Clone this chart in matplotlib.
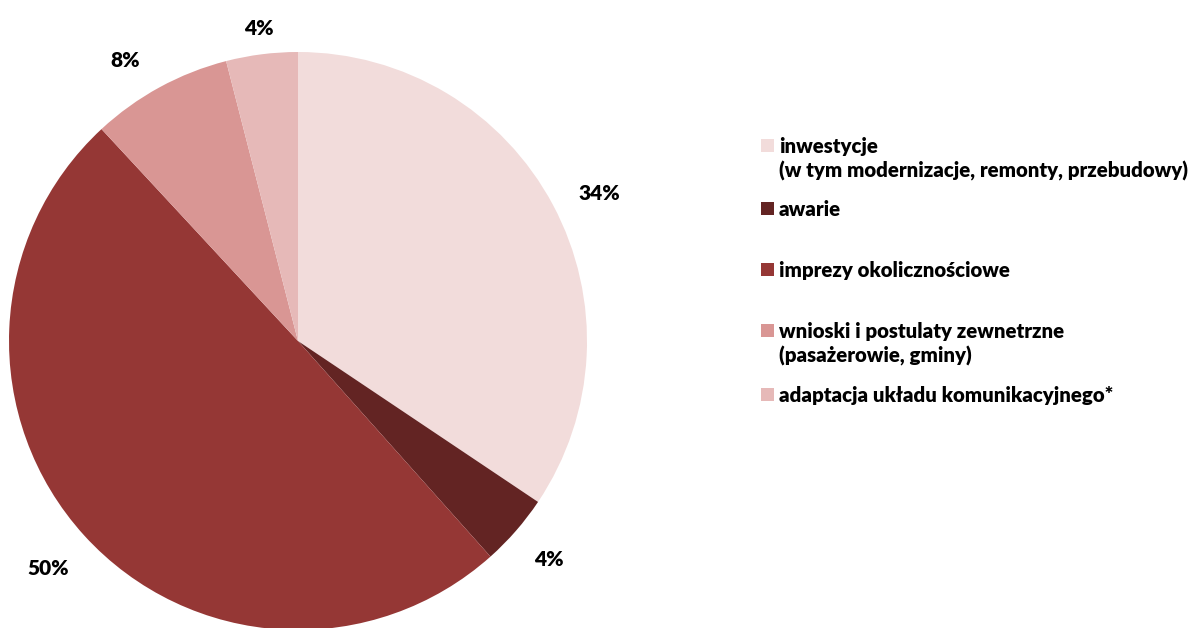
import numpy as np
import matplotlib.pyplot as plt
from matplotlib.patches import Rectangle

categories = [
    "inwestycje\n(w tym modernizacje, remonty, przebudowy)",
    "awarie",
    "imprezy okolicznościowe",
    "wnioski i postulaty zewnetrzne\n(pasażerowie, gminy)",
    "adaptacja układu komunikacyjnego*",
]
values = [34.4, 4.0, 49.7, 7.9, 4.0]
colors = ["#F2DCDB", "#632423", "#953735", "#D99694", "#E6B9B8"]

plt.rcParams['font.family'] = ['Lato', 'DejaVu Sans']

W, H = 1192, 628
fig = plt.figure(figsize=(W / 100, H / 100), dpi=100)

# pie axes: centre (298, 341), radius 289 px
cx, cy, r = 298, 341, 289
ax = fig.add_axes([(cx - r) / W, (H - cy - r) / H, 2 * r / W, 2 * r / H])
wedges, texts, autotexts = ax.pie(
    values, colors=colors, startangle=90, counterclock=False,
    autopct=lambda p: f"{p:.0f}%", pctdistance=1.15,
    textprops=dict(fontsize=15, fontweight="heavy", color="black"),
)
# Excel-like label placement: slightly different distance / angle shift per label
label_dist = [1.16, 1.15, 1.17, 1.14, 1.09]
label_shift = [-2, 0, 0, 3, 0]
for w, t, d, s in zip(wedges, autotexts, label_dist, label_shift):
    ang = np.deg2rad((w.theta1 + w.theta2) / 2 + s)
    t.set_position((d * np.cos(ang), d * np.sin(ang)))
ax.set_xlim(-1, 1)
ax.set_ylim(-1, 1)
ax.axis("off")

# legend drawn by hand to mimic the uneven Excel spacing
legend_y = [146, 209, 270, 331, 395]
for lab, col, y in zip(categories, colors, legend_y):
    fig.patches.append(Rectangle((761 / W, 1 - (y + 6) / H), 13 / W, 13 / H,
                                 transform=fig.transFigure, facecolor=col,
                                 edgecolor="none"))
    fig.text(779 / W, 1 - (y - 9) / H, lab, fontsize=14.7, fontweight="heavy",
             va="top", ha="left", linespacing=1.3)

fig.savefig("out.png", dpi=100)
